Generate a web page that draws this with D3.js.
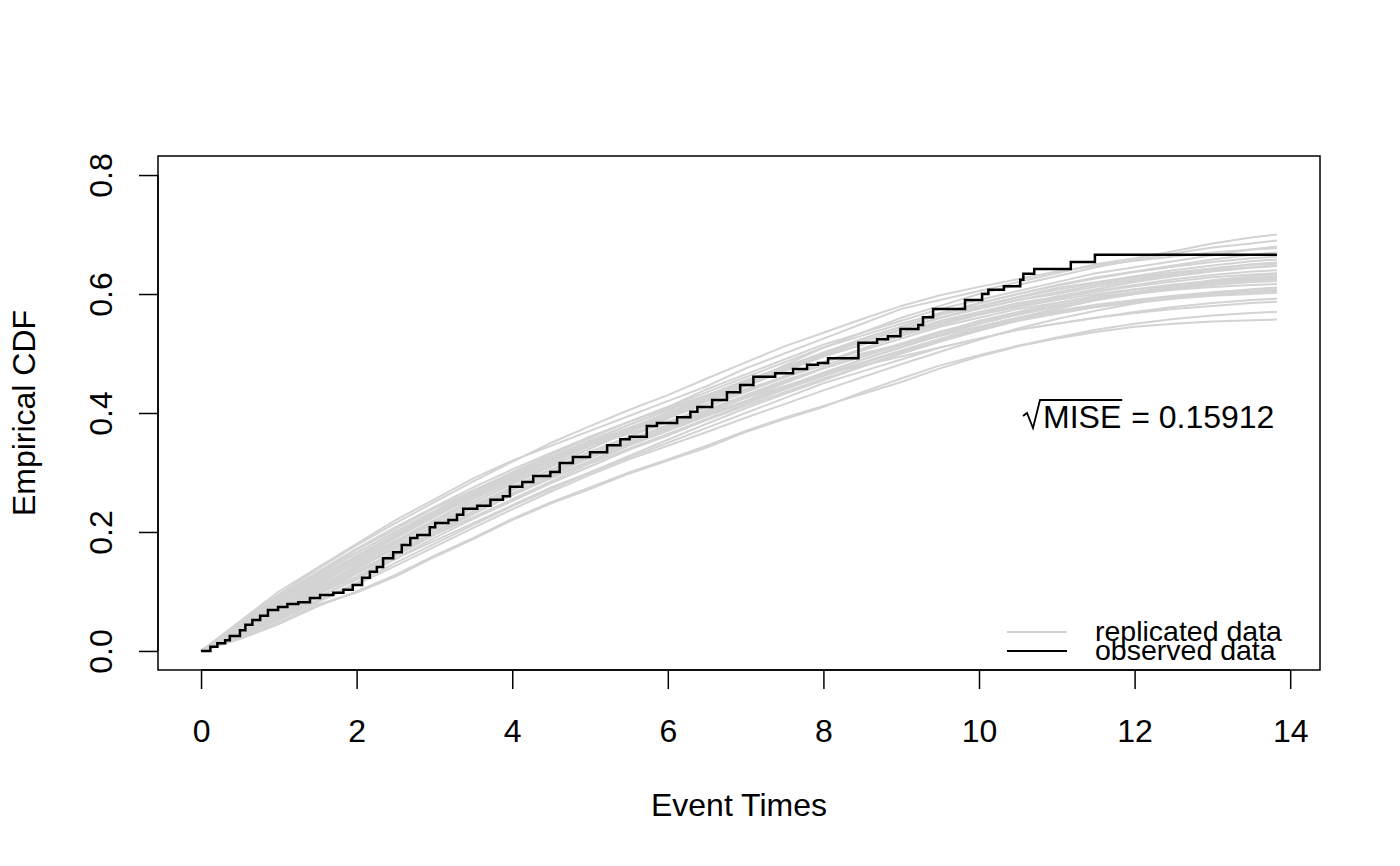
<!DOCTYPE html>
<html>
<head>
<meta charset="utf-8">
<script src="https://cdn.jsdelivr.net/npm/d3@7"></script>
<style>
  body { margin: 0; background: #fff; }
  text { font-family: "Liberation Sans", Arial, sans-serif; fill: #000; }
</style>
</head>
<body>
<div id="chart"></div>
<script>
var svgWidth = 1400;
var svgHeight = 866;

// plot region (R style box)
var box = { left: 158, right: 1320, top: 156, bottom: 670 };

// axis limits before R's 4% padding
var xLim = [0, 13.83];
var yLim = [0, 0.8];
var xTicks = [0, 2, 4, 6, 8, 10, 12, 14];
var yTicks = [0, 0.2, 0.4, 0.6, 0.8];

// observed data: ECDF step points
var obsTime = [0, 0.12, 0.21, 0.31, 0.37, 0.50, 0.57, 0.66, 0.76, 0.86, 0.99, 1.11, 1.25, 1.40, 1.53,
  1.70, 1.83, 1.95, 2.07, 2.17, 2.26, 2.34, 2.47, 2.58, 2.69, 2.78, 2.94, 3.01, 3.18, 3.29,
  3.37, 3.55, 3.72, 3.88, 3.97, 4.13, 4.27, 4.49, 4.61, 4.78, 5.00, 5.22, 5.39, 5.51, 5.73,
  5.86, 6.12, 6.29, 6.38, 6.57, 6.76, 6.93, 7.10, 7.38, 7.61, 7.79, 7.93, 8.06, 8.45, 8.69,
  8.83, 8.99, 9.22, 9.28, 9.41, 9.82, 10.04, 10.12, 10.32, 10.53, 10.57, 10.71, 11.18, 11.49, 13.83];
var obsCdf = [0, 0.007, 0.013, 0.018, 0.025, 0.035, 0.044, 0.052, 0.059, 0.069, 0.074, 0.079, 0.082, 0.089, 0.094,
  0.098, 0.103, 0.111, 0.123, 0.133, 0.141, 0.156, 0.166, 0.178, 0.190, 0.195, 0.208, 0.215, 0.220, 0.229,
  0.239, 0.244, 0.254, 0.260, 0.276, 0.284, 0.294, 0.301, 0.316, 0.326, 0.334, 0.346, 0.356, 0.360, 0.378,
  0.383, 0.393, 0.402, 0.410, 0.422, 0.435, 0.447, 0.461, 0.467, 0.474, 0.481, 0.484, 0.492, 0.518, 0.524,
  0.529, 0.541, 0.548, 0.561, 0.575, 0.590, 0.600, 0.607, 0.613, 0.624, 0.634, 0.642, 0.654, 0.666, 0.666];

// replicated data: ECDF of each replicate read at these times
var repTime = [0, 0.5, 1, 1.5, 2, 2.5, 3, 3.5, 4, 4.5, 5, 5.5, 6, 6.5, 7, 7.5, 8, 8.5, 9, 9.5,
  10, 10.5, 11, 11.5, 12, 12.5, 13, 13.5, 13.83];
var repCdf = [
  [0, .05, .10, .14, .18, .22, .255, .29, .32, .345, .37, .395, .42, .445, .475, .50, .525, .55, .575, .59, .605, .62, .635, .65, .66, .672, .685, .695, .70],
  [0, .045, .09, .13, .165, .20, .235, .27, .30, .33, .36, .385, .41, .44, .465, .49, .515, .535, .555, .575, .59, .605, .62, .635, .645, .655, .665, .675, .68],
  [0, .04, .08, .12, .155, .19, .225, .26, .29, .32, .35, .375, .40, .425, .45, .475, .50, .52, .54, .56, .575, .59, .60, .612, .622, .632, .64, .645, .648],
  [0, .035, .075, .11, .15, .185, .22, .255, .285, .315, .345, .37, .395, .42, .445, .47, .495, .515, .535, .555, .57, .585, .595, .605, .615, .625, .632, .638, .64],
  [0, .03, .07, .105, .14, .175, .21, .245, .275, .305, .335, .36, .385, .41, .435, .46, .485, .505, .525, .545, .56, .575, .585, .595, .603, .61, .618, .623, .625],
  [0, .025, .055, .09, .12, .155, .185, .215, .245, .275, .30, .325, .35, .375, .40, .425, .45, .47, .49, .51, .525, .54, .55, .56, .568, .575, .58, .585, .587],
  [0, .02, .045, .075, .10, .128, .16, .19, .222, .25, .275, .30, .322, .345, .37, .392, .412, .432, .452, .475, .495, .512, .525, .536, .545, .55, .554, .556, .557],
  [0, .04, .085, .125, .16, .195, .23, .265, .295, .325, .35, .375, .395, .42, .44, .46, .48, .50, .515, .53, .545, .56, .575, .59, .60, .61, .618, .625, .628],
  [0, .03, .06, .095, .13, .165, .20, .235, .27, .30, .33, .36, .39, .42, .45, .48, .51, .535, .56, .58, .60, .615, .63, .645, .657, .668, .678, .685, .69],
  [0, .045, .09, .13, .17, .205, .24, .27, .295, .32, .345, .365, .385, .405, .425, .445, .465, .48, .495, .51, .525, .54, .55, .56, .57, .578, .585, .59, .592],
  [0, .035, .07, .105, .145, .18, .215, .245, .275, .305, .33, .355, .38, .405, .43, .455, .475, .495, .515, .535, .55, .565, .578, .59, .60, .607, .612, .615, .617],
  [0, .04, .08, .115, .15, .185, .22, .25, .28, .31, .34, .37, .395, .425, .45, .475, .50, .525, .545, .565, .58, .595, .61, .62, .63, .64, .648, .655, .658],
  [0, .03, .065, .10, .135, .165, .20, .235, .265, .295, .325, .35, .375, .40, .425, .45, .475, .495, .515, .535, .555, .57, .585, .597, .607, .615, .62, .625, .627],
  [0, .028, .06, .095, .125, .16, .195, .225, .255, .285, .315, .34, .365, .39, .415, .44, .465, .49, .51, .53, .545, .56, .572, .582, .59, .597, .603, .607, .608],
  [0, .038, .078, .115, .152, .19, .228, .262, .292, .322, .352, .38, .405, .43, .455, .478, .50, .52, .54, .56, .575, .59, .603, .615, .625, .635, .643, .65, .653],
  [0, .032, .068, .102, .138, .172, .205, .24, .27, .298, .325, .35, .375, .398, .42, .443, .465, .485, .505, .525, .542, .558, .57, .58, .588, .595, .60, .603, .605],
  [0, .042, .082, .12, .158, .195, .23, .262, .292, .32, .348, .372, .398, .422, .448, .472, .495, .515, .535, .553, .568, .582, .596, .608, .62, .63, .638, .644, .647],
  [0, .026, .058, .09, .122, .155, .19, .222, .252, .282, .31, .338, .362, .388, .412, .435, .458, .478, .50, .52, .538, .555, .568, .578, .585, .592, .597, .60, .602],
  [0, .022, .048, .078, .098, .125, .158, .188, .22, .248, .272, .298, .32, .342, .368, .39, .41, .435, .458, .48, .497, .513, .527, .54, .55, .558, .564, .568, .57],
  [0, .048, .095, .138, .178, .215, .25, .285, .318, .35, .378, .405, .43, .458, .485, .512, .535, .558, .58, .598, .612, .625, .638, .648, .656, .663, .67, .675, .677],
  [0, .033, .066, .10, .132, .168, .20, .232, .262, .29, .318, .345, .37, .395, .418, .44, .462, .483, .503, .522, .54, .555, .567, .578, .587, .594, .60, .604, .606],
  [0, .037, .074, .112, .148, .182, .218, .25, .282, .312, .34, .368, .392, .415, .438, .462, .486, .508, .53, .548, .565, .578, .59, .60, .608, .616, .622, .627, .63],
  [0, .044, .088, .128, .165, .20, .235, .268, .30, .33, .358, .385, .41, .435, .46, .485, .51, .53, .55, .568, .585, .60, .615, .628, .638, .648, .658, .666, .67],
  [0, .027, .055, .085, .115, .148, .18, .212, .243, .272, .30, .328, .355, .382, .408, .432, .455, .478, .50, .52, .54, .558, .575, .59, .603, .614, .623, .63, .633],
  [0, .034, .07, .108, .142, .176, .21, .242, .272, .30, .328, .354, .378, .402, .428, .452, .476, .497, .517, .537, .553, .568, .581, .592, .601, .609, .615, .62, .622],
  [0, .046, .092, .133, .172, .208, .242, .275, .305, .333, .36, .385, .408, .43, .452, .474, .496, .515, .533, .55, .566, .58, .593, .604, .613, .621, .628, .633, .635],
  [0, .024, .052, .082, .112, .143, .175, .207, .238, .268, .296, .322, .345, .368, .392, .415, .438, .46, .482, .503, .523, .542, .558, .572, .584, .594, .602, .608, .611],
  [0, .039, .079, .118, .155, .192, .226, .258, .288, .318, .346, .374, .40, .426, .452, .477, .502, .524, .545, .566, .584, .60, .614, .626, .637, .646, .654, .66, .663],
  [0, .029, .062, .097, .13, .163, .196, .23, .262, .292, .32, .347, .372, .396, .42, .444, .468, .49, .511, .531, .55, .566, .58, .592, .602, .611, .618, .624, .626],
  [0, .041, .083, .122, .16, .196, .232, .266, .298, .326, .354, .38, .404, .428, .452, .476, .498, .52, .541, .56, .578, .594, .607, .618, .628, .636, .643, .649, .651]
];

var legendLabels = ["replicated data", "observed data"];
var legendColors = ["#d3d3d3", "#000000"];
var miseValue = "0.15912";

// R: cex 1 text is 32px here, one margin line is 1.2 of that
var fontSize = 32;
var legendFont = 28.5;

// svg container
var svg = d3.select("#chart")
  .append("svg")
  .attr("width", svgWidth)
  .attr("height", svgHeight);

// R pads the limits by 4% on each side
function pad(lim) {
  var r = lim[1] - lim[0];
  return [lim[0] - 0.04 * r, lim[1] + 0.04 * r];
}

var xScale = d3.scaleLinear().domain(pad(xLim)).range([box.left, box.right]);
var yScale = d3.scaleLinear().domain(pad(yLim)).range([box.bottom, box.top]);

// replicated curves
var repLine = d3.line()
  .x(function(d, i) { return xScale(repTime[i]); })
  .y(function(d) { return yScale(d); });

svg.append("g").selectAll("path")
  .data(repCdf)
  .enter()
  .append("path")
  .attr("d", repLine)
  .attr("fill", "none")
  .attr("stroke", "#d3d3d3")
  .attr("stroke-width", 2);

// observed ECDF
var obsLine = d3.line()
  .x(function(d, i) { return xScale(obsTime[i]); })
  .y(function(d) { return yScale(d); })
  .curve(d3.curveStepAfter);

svg.append("path")
  .datum(obsCdf)
  .attr("d", obsLine)
  .attr("fill", "none")
  .attr("stroke", "#000")
  .attr("stroke-width", 2.5);

// box
svg.append("rect")
  .attr("x", box.left)
  .attr("y", box.top)
  .attr("width", box.right - box.left)
  .attr("height", box.bottom - box.top)
  .attr("fill", "none")
  .attr("stroke", "#000")
  .attr("stroke-width", 1.5);

// X axis
var xAxis = d3.axisBottom(xScale)
  .tickValues(xTicks)
  .tickSize(19)
  .tickPadding(30)
  .tickFormat(d3.format("d"));

var gx = svg.append("g")
  .attr("transform", `translate(0, ${box.bottom})`)
  .call(xAxis);
gx.select(".domain")
  .attr("d", `M${xScale(xTicks[0])},0H${xScale(xTicks[xTicks.length - 1])}`);

// Y axis
var yAxis = d3.axisLeft(yScale)
  .tickValues(yTicks)
  .tickSize(19)
  .tickFormat(d3.format(".1f"));

var gy = svg.append("g")
  .attr("transform", `translate(${box.left}, 0)`)
  .call(yAxis);
gy.select(".domain")
  .attr("d", `M0,${yScale(yTicks[0])}V${yScale(yTicks[yTicks.length - 1])}`);
gy.selectAll(".tick text")
  .attr("x", null)
  .attr("dy", null)
  .attr("text-anchor", "middle")
  .attr("transform", "translate(-46,0) rotate(-90)");

svg.selectAll(".tick line, .domain").attr("stroke", "#000").attr("stroke-width", 1.5);
svg.selectAll(".tick text")
  .attr("font-size", fontSize)
  .attr("font-family", "Liberation Sans, Arial, sans-serif")
  .attr("fill", "#000");

// axis titles
svg.append("text")
  .attr("x", (box.left + box.right) / 2)
  .attr("y", 816)
  .attr("text-anchor", "middle")
  .attr("font-size", fontSize)
  .text("Event Times");

svg.append("text")
  .attr("transform", `translate(35, ${(box.top + box.bottom) / 2}) rotate(-90)`)
  .attr("text-anchor", "middle")
  .attr("font-size", fontSize)
  .text("Empirical CDF");

// sqrt(MISE) annotation
var mise = svg.append("g");
var miseBase = 428;
var miseX = 1043;
var word = mise.append("text")
  .attr("x", miseX)
  .attr("y", miseBase)
  .attr("font-size", fontSize)
  .text("MISE");
var miseEnd = miseX + word.node().getComputedTextLength();
mise.append("path")
  .attr("d", `M${miseX - 20},${miseBase - 12}L${miseX - 16},${miseBase - 15}L${miseX - 10},${miseBase}L${miseX - 3},${miseBase - 28}H${miseEnd + 1}`)
  .attr("fill", "none")
  .attr("stroke", "#000")
  .attr("stroke-width", 1.8);
mise.append("text")
  .attr("x", miseEnd + 1)
  .attr("y", miseBase)
  .attr("font-size", fontSize)
  .attr("xml:space", "preserve")
  .text(" = " + miseValue);

// legend
var legend = svg.append("g").selectAll("g")
  .data(legendLabels)
  .enter()
  .append("g")
  .attr("transform", function(d, i) { return `translate(1007, ${632 + i * 19})`; });

legend.append("line")
  .attr("x1", 0)
  .attr("x2", 60)
  .attr("stroke", function(d, i) { return legendColors[i]; })
  .attr("stroke-width", 2);

legend.append("text")
  .attr("x", 88)
  .attr("y", 9)
  .attr("font-size", legendFont)
  .text(function(d) { return d; });
</script>
</body>
</html>
